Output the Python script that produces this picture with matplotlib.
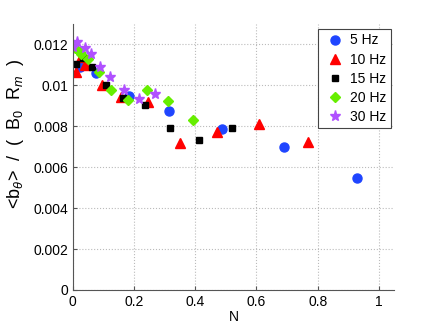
import matplotlib
matplotlib.use("Agg")
import matplotlib.pyplot as plt

plt.rcParams['font.family'] = ['Liberation Sans', 'DejaVu Sans']
plt.rcParams['mathtext.fontset'] = 'custom'
plt.rcParams['mathtext.rm'] = 'Liberation Sans'
plt.rcParams['mathtext.it'] = 'Liberation Sans:italic'

# 5 Hz
n5 = [0.025, 0.075, 0.183, 0.315, 0.486, 0.690, 0.930]
b5 = [0.0109, 0.0106, 0.0095, 0.00876, 0.00786, 0.00701, 0.00549]
# 10 Hz
n10 = [0.012, 0.028, 0.039, 0.094, 0.159, 0.246, 0.350, 0.472, 0.609, 0.767]
b10 = [0.01065, 0.01138, 0.01097, 0.0100, 0.00945, 0.0092, 0.00717, 0.00772, 0.0081, 0.00724]
# 15 Hz
n15 = [0.009, 0.034, 0.063, 0.107, 0.164, 0.237, 0.319, 0.412, 0.519]
b15 = [0.01106, 0.01134, 0.0109, 0.01002, 0.0094, 0.00906, 0.0079, 0.00734, 0.00791]
# 20 Hz
n20 = [0.007, 0.023, 0.028, 0.048, 0.085, 0.126, 0.181, 0.243, 0.311, 0.393]
b20 = [0.0118, 0.01163, 0.01155, 0.0113, 0.01065, 0.00978, 0.00929, 0.00979, 0.00925, 0.00832]
# 30 Hz
n30 = [0.001, 0.014, 0.039, 0.058, 0.088, 0.123, 0.168, 0.216, 0.270]
b30 = [0.01188, 0.0121, 0.0118, 0.01155, 0.0109, 0.0104, 0.00978, 0.00934, 0.00958]

fig = plt.figure(figsize=(4.36, 3.28), dpi=100)
ax = fig.add_axes([0.167, 0.116, 0.737, 0.811])

ax.plot(n5, b5, 'o', color='#1f45ff', ms=6.5, mec='#1f45ff', label='5 Hz')
ax.plot(n10, b10, '^', color='#ff0000', ms=7, mec='#ff0000', label='10 Hz')
ax.plot(n15, b15, 's', color='black', ms=5, label='15 Hz')
ax.plot(n20, b20, 'D', color='#66ee00', ms=5.5, mec='#66ee00', label='20 Hz')
ax.plot(n30, b30, '*', color='#b050ff', ms=8, mec='#b050ff', label='30 Hz')

ax.set_xlim(0, 1.05)
ax.set_ylim(0, 0.013)
ax.set_xticks([0, 0.2, 0.4, 0.6, 0.8, 1])
ax.set_xticklabels(['0', '0.2', '0.4', '0.6', '0.8', '1'])
ax.set_yticks([0, 0.002, 0.004, 0.006, 0.008, 0.01, 0.012])
ax.set_yticklabels(['0', '0.002', '0.004', '0.006', '0.008', '0.01', '0.012'])
ax.tick_params(direction='in', labelsize=10, length=3, color='#555555')
ax.grid(True, linestyle=':', color='#bbbbbb', linewidth=0.8)
for s in ['top', 'right']:
    ax.spines[s].set_visible(False)
for s in ['left', 'bottom']:
    ax.spines[s].set_color('#555555')

ax.set_xlabel('N', fontsize=10, labelpad=1)
ax.set_ylabel(r'<b$_\theta$>  /  (  B$_0$  R$_m$  )', fontsize=13)
ax.yaxis.set_label_coords(-0.145, 0.585)

leg = ax.legend(loc='upper right', bbox_to_anchor=(0.99, 0.98), borderaxespad=0,
                fontsize=10, fancybox=False, edgecolor='#444444', framealpha=1,
                handletextpad=0.2, borderpad=0.3, labelspacing=0.37,
                handlelength=1.8, numpoints=1)
leg.get_frame().set_linewidth(0.8)

fig.savefig('out.png', dpi=100)
